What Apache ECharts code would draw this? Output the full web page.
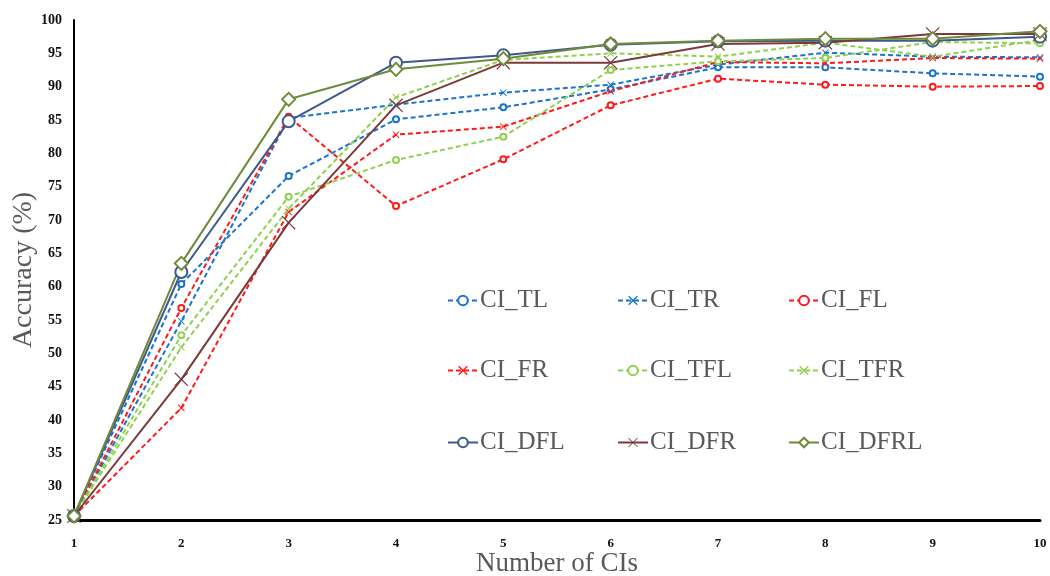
<!DOCTYPE html>
<html>
<head>
<meta charset="utf-8">
<title>Accuracy vs Number of CIs</title>
<script src="https://cdn.jsdelivr.net/npm/echarts@6/dist/echarts.min.js"></script>
<style>
    html, body { margin: 0; padding: 0; background: #fff; }
    #chart { width: 1050px; height: 576px; }
</style>
</head>
<body>
<div id="chart"></div>
<script>
// 横轴类别
const ciCounts = ['1', '2', '3', '4', '5', '6', '7', '8', '9', '10'];

// 各方法的准确率 (%)
const ciTL = [25.6, 60.4, 76.6, 85.1, 86.9, 89.6, 92.9, 92.9, 92.0, 91.5];
const ciTR = [25.6, 54.8, 85.3, 87.3, 89.1, 90.3, 93.3, 95.1, 94.5, 94.4];
const ciFL = [25.6, 56.8, 85.5, 72.1, 79.1, 87.2, 91.2, 90.3, 90.0, 90.1];
const ciFR = [25.6, 41.8, 71.2, 82.8, 84.0, 89.3, 93.7, 93.5, 94.3, 94.2];
const ciTFL = [25.6, 52.7, 73.5, 79.0, 82.5, 92.5, 93.8, 94.3, 96.7, 96.5];
const ciTFR = [25.6, 50.9, 71.7, 88.4, 94.0, 95.0, 94.5, 96.6, 94.5, 97.0];
const ciDFL = [25.6, 62.2, 84.8, 93.6, 94.7, 96.3, 96.8, 96.9, 96.9, 97.5];
const ciDFR = [25.6, 46.1, 69.6, 87.2, 93.6, 93.6, 96.4, 96.6, 97.9, 97.9];
const ciDFRL = [25.6, 63.5, 88.1, 92.6, 94.2, 96.4, 96.9, 97.2, 97.2, 98.3];

const SERIF = '"Liberation Serif", "DejaVu Serif", serif';
const CROSS = 'path://M1,0 L5,4 L9,0 L10,1 L6,5 L10,9 L9,10 L5,6 L1,10 L0,9 L4,5 L0,1 Z';
const THIN_CROSS = 'path://M0.6,0 L5,4.4 L9.4,0 L10,0.6 L5.6,5 L10,9.4 L9.4,10 L5,5.6 L0.6,10 L0,9.4 L4.4,5 L0,0.6 Z';

// 线型配置: 名称, 数据, 颜色, 虚线/实线, 标记
const seriesConfig = [
    { name: 'CI_TL', data: ciTL, color: '#1874cd', type: 'dashed', symbol: 'emptyCircle', size: 6 },
    { name: 'CI_TR', data: ciTR, color: '#1874cd', type: 'dashed', symbol: CROSS, size: 7 },
    { name: 'CI_FL', data: ciFL, color: '#ff1a1a', type: 'dashed', symbol: 'emptyCircle', size: 6 },
    { name: 'CI_FR', data: ciFR, color: '#ff1a1a', type: 'dashed', symbol: CROSS, size: 7 },
    { name: 'CI_TFL', data: ciTFL, color: '#8fd14f', type: 'dashed', symbol: 'emptyCircle', size: 6 },
    { name: 'CI_TFR', data: ciTFR, color: '#8fd14f', type: 'dashed', symbol: CROSS, size: 7 },
    { name: 'CI_DFL', data: ciDFL, color: '#3f5a8a', type: 'solid', symbol: 'emptyCircle', size: 12 },
    { name: 'CI_DFR', data: ciDFR, color: '#7b3a3a', type: 'solid', symbol: THIN_CROSS, size: 14 },
    { name: 'CI_DFRL', data: ciDFRL, color: '#6f8a3a', type: 'solid', symbol: 'emptyDiamond', size: 13 }
];

// 图例 3x3 排布
const legendLeft = [447, 617, 788];
const legendTop = [288, 358, 430];

const chart = echarts.init(document.getElementById('chart'));

chart.setOption({
    animation: false,
    backgroundColor: '#fff',
    grid: {
        left: 74,
        right: 10,
        top: 20,
        bottom: 56,
        outerBoundsMode: 'none'
    },
    legend: seriesConfig.map((s, i) => ({
        data: [s.name],
        left: legendLeft[i % 3],
        top: legendTop[Math.floor(i / 3)],
        padding: 0,
        itemWidth: 30,
        itemHeight: 12,
        itemGap: 2,
        textStyle: {
            fontFamily: SERIF,
            fontSize: 25,
            color: '#595959',
            padding: [0, 0, 0, -3]
        }
    })),
    xAxis: {
        type: 'category',
        data: ciCounts,
        boundaryGap: false,
        name: 'Number of CIs',
        nameLocation: 'middle',
        nameGap: 30,
        nameMoveOverlap: false,
        nameTextStyle: {
            fontFamily: SERIF,
            fontSize: 27,
            color: '#595959'
        },
        axisLine: {
            lineStyle: { color: '#000', width: 3 }
        },
        axisTick: { show: false },
        axisLabel: {
            fontFamily: SERIF,
            fontWeight: 'bold',
            fontSize: 13,
            color: '#111',
            margin: 17
        },
        splitLine: { show: false }
    },
    yAxis: {
        type: 'value',
        min: 25,
        max: 100,
        interval: 5,
        name: 'Accuracy (%)',
        nameLocation: 'middle',
        nameGap: 36,
        nameMoveOverlap: false,
        nameTextStyle: {
            fontFamily: SERIF,
            fontSize: 28,
            color: '#595959'
        },
        axisLine: {
            show: true,
            lineStyle: { color: '#000', width: 2 }
        },
        axisTick: { show: false },
        axisLabel: {
            fontFamily: SERIF,
            fontWeight: 'bold',
            fontSize: 14,
            color: '#111',
            margin: 12
        },
        splitLine: { show: false }
    },
    series: seriesConfig.map(s => ({
        name: s.name,
        type: 'line',
        data: s.data,
        symbol: s.symbol,
        symbolSize: s.size,
        showAllSymbol: true,
        lineStyle: {
            color: s.color,
            width: 2,
            type: s.type === 'dashed' ? [5, 3] : 'solid'
        },
        itemStyle: {
            color: s.color,
            borderColor: s.color,
            borderWidth: s.symbol.indexOf('empty') === 0 ? 1.5 : 0
        }
    }))
});
</script>
</body>
</html>
